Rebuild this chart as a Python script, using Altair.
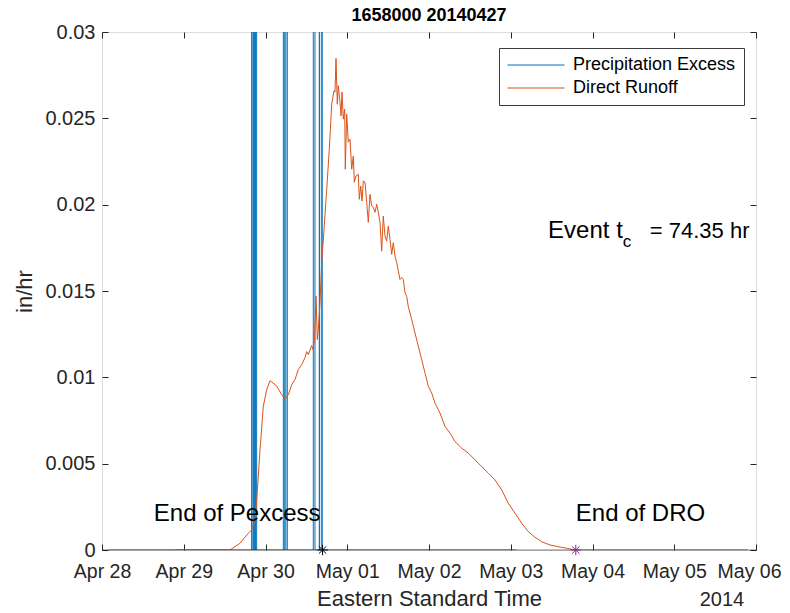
import altair as alt
import pandas as pd

# ---------------- data (hours since 2014-04-28 00:00 EST) ----------------
START = "2014-04-28 00:00:00"

tick_dates = ["2014-04-28", "2014-04-29", "2014-04-30", "2014-05-01", "2014-05-02",
              "2014-05-03", "2014-05-04", "2014-05-05", "2014-05-06"]
y_ticks = [0, 0.005, 0.01, 0.015, 0.02, 0.025, 0.03]

# Precipitation excess (in/hr) -- pulses exceed the axis top and are clipped
pex_hours = [2.0,
             43.95, 43.95, 44.05, 44.05,
             44.45, 44.45, 44.75, 44.75,
             45.05, 45.05, 45.40, 45.40,
             53.23, 53.23, 53.64, 53.64,
             53.98, 53.98, 54.40, 54.40,
             62.03, 62.03, 62.53, 62.53,
             63.79, 63.79, 63.90, 63.90,
             64.55, 64.55, 64.62, 64.62,
             121.7]
pex_values = [0,
              0, 0.044, 0.044, 0,
              0, 0.052, 0.052, 0,
              0, 0.071, 0.071, 0,
              0, 0.064, 0.064, 0,
              0, 0.083, 0.083, 0,
              0, 0.047, 0.047, 0,
              0, 0.058, 0.058, 0,
              0, 0.039, 0.039, 0,
              0]

# Direct runoff (in/hr)
ro_hours = [21.43, 37.58, 40.51, 42.95, 43.95, 44.92, 45.42, 46.39, 47.35, 48.35,
            49.32, 51.29, 52.76, 53.73, 54.69, 55.69, 56.66, 57.63, 58.63, 59.60,
            60.09, 60.57, 61.56, 61.95, 62.39, 62.83, 63.21, 63.50, 64.00, 64.50,
            65.18, 65.97, 66.73, 67.43, 68.11, 68.40, 68.70, 69.08, 69.37, 69.87,
            70.17, 70.46, 70.84, 71.25, 71.43, 71.84, 72.31, 72.81, 73.31, 73.78,
            74.07, 74.57, 75.24, 75.54, 75.95, 76.33, 76.71, 77.21, 77.71, 78.18,
            78.68, 79.18, 79.65, 80.15, 80.65, 81.12, 81.62, 82.11, 82.58, 83.08,
            83.58, 84.05, 84.55, 85.05, 85.52, 86.02, 86.52, 86.99, 87.49, 87.99,
            88.46, 88.95, 89.45, 89.92, 90.92, 91.89, 92.86, 93.86, 94.83, 95.80,
            96.79, 97.76, 99.23, 100.70, 102.17, 103.63, 105.60, 107.54, 109.51, 111.47,
            113.41, 115.37, 117.34, 119.28, 121.25, 123.21, 125.15, 127.12, 129.09, 131.52,
            133.96, 136.42, 139.10, 189.6]
ro_values = [0, 0, 0.00039, 0.00097, 0.00116, 0.00174, 0.00290, 0.00580, 0.00832, 0.00928,
             0.00981, 0.00950, 0.00899, 0.00875, 0.00899, 0.00957, 0.00987, 0.01045, 0.01074, 0.01114,
             0.01149, 0.01132, 0.01184, 0.01160, 0.01219, 0.01470, 0.01219, 0.01277, 0.01433, 0.01665,
             0.01857, 0.02089, 0.02321, 0.02582, 0.02660, 0.02652, 0.02847, 0.02582, 0.02689, 0.02594,
             0.02514, 0.02652, 0.02495, 0.02553, 0.02205, 0.02524, 0.02362, 0.02379, 0.02205, 0.02282,
             0.02130, 0.02166, 0.02176, 0.02031, 0.02108, 0.02021, 0.02137, 0.02130, 0.02014, 0.01898,
             0.02060, 0.01992, 0.01985, 0.01956, 0.02002, 0.01956, 0.01898, 0.01731, 0.01934, 0.01818,
             0.01789, 0.01876, 0.01799, 0.01712, 0.01780, 0.01702, 0.01665, 0.01615, 0.01567, 0.01578,
             0.01567, 0.01491, 0.01468, 0.01410, 0.01335, 0.01257, 0.01180, 0.01103, 0.01025, 0.00948,
             0.00909, 0.00851, 0.00793, 0.00716, 0.00677, 0.00628, 0.00590, 0.00561, 0.00522, 0.00483,
             0.00445, 0.00406, 0.00348, 0.00271, 0.00213, 0.00155, 0.00106, 0.00074, 0.00048, 0.00029,
             0.00019, 0.00010, 0, 0]

end_pexcess_hour = 64.75
event_tc_hours = 74.35
end_dro_hour = end_pexcess_hour + event_tc_hours

series_names = ["Precipitation Excess", "Direct Runoff"]
series_colors = ["#0072BD", "#D95319"]
title_text = "1658000 20140427"

# ---------------- tables ----------------
t0 = pd.Timestamp(START)
def to_time(h):
    return t0 + pd.to_timedelta(h, unit="h")

pex_df = pd.DataFrame({"time": to_time(pex_hours), "value": pex_values,
                       "series": series_names[0], "idx": range(len(pex_hours))})
ro_df = pd.DataFrame({"time": to_time(ro_hours), "value": ro_values,
                      "series": series_names[1], "idx": range(len(ro_hours))})
zero_df = pd.DataFrame({"value": [0.0]})
pend_df = pd.DataFrame({"time": to_time([end_pexcess_hour]), "value": [0.0]})
dend_df = pd.DataFrame({"time": to_time([end_dro_hour]), "value": [0.0]})
ann_right = pd.DataFrame({"time": to_time([end_pexcess_hour]), "value": [0.0021],
                          "label": ["End of Pexcess"]})
ann_left = pd.DataFrame({"time": to_time([end_dro_hour]), "value": [0.0021],
                         "label": ["End of DRO"]})
tc_df = pd.DataFrame({"time": to_time([152.9]), "value": [0.0185]})
year_df = pd.DataFrame({"time": to_time([182.0]), "value": [0.0]})

FONT = "Liberation Sans"
AX = "#262626"
W, H = 654, 518

tick_dt = [alt.DateTime(year=d.year, month=d.month, date=d.day)
           for d in pd.to_datetime(tick_dates)]
xs = alt.Scale(domain=[tick_dt[0], tick_dt[-1]], nice=False)
ys = alt.Scale(domain=[0, 0.03], nice=False)
cs = alt.Scale(domain=series_names, range=series_colors)

legend = alt.Legend(title=None, orient="none", legendX=397, legendY=16,
                    direction="vertical", fillColor="white", strokeColor="#3a3a3a",
                    padding=8, symbolType="stroke", symbolSize=3249,
                    symbolStrokeWidth=1, clipHeight=18, rowPadding=5,
                    labelOffset=8, labelFontSize=18, labelFont=FONT,
                    labelColor="black", labelLimit=400)

XL = 19.5
x_main = alt.Axis(orient="bottom", values=tick_dt[:-1], format="%b %d", labelFontSize=XL,
                  labelFont=FONT, labelColor=AX, labelPadding=12, ticks=False,
                  labelFlush=False, labelOverlap=False,
                  domain=False, grid=False, title="Eastern Standard Time",
                  titleFontSize=22, titleFont=FONT, titleFontWeight="normal",
                  titleColor=AX, titlePadding=8)
# last date label, kept inside the page edge
x_last = alt.Axis(orient="bottom", values=tick_dt[-1:], format="%b %d", labelFontSize=XL,
                  labelFont=FONT, labelColor=AX, labelPadding=12, ticks=False,
                  labelFlush=True, labelFlushOffset=25, labelOverlap=False,
                  domain=False, grid=False, title=None)
y_main = alt.Axis(orient="left", values=y_ticks, format="~g", labelFontSize=20,
                  labelFont=FONT, labelColor=AX, labelPadding=7, ticks=False,
                  labelFlush=False, labelOverlap=False,
                  domain=False, grid=False, title="in/hr", titleFontSize=22,
                  titleFont=FONT, titleFontWeight="normal", titleColor=AX,
                  titlePadding=8)
# inward tick marks on the four sides
x_tick_bot = alt.Axis(orient="top", offset=-H, values=tick_dt, labels=False, ticks=True,
                      tickSize=6, tickColor=AX, domain=False, grid=False, title=None)
x_tick_top = alt.Axis(orient="bottom", offset=-H, values=tick_dt, labels=False, ticks=True,
                      tickSize=6, tickColor=AX, domain=False, grid=False, title=None)
y_tick_left = alt.Axis(orient="right", offset=-W, values=y_ticks, labels=False, ticks=True,
                       tickSize=6, tickColor=AX, domain=False, grid=False, title=None)
y_tick_right = alt.Axis(orient="left", offset=-W, values=y_ticks, labels=False, ticks=True,
                        tickSize=6, tickColor=AX, domain=False, grid=False, title=None)

ASTERISK = "M-1,0L1,0M0,-1L0,1M-0.7,-0.7L0.7,0.7M-0.7,0.7L0.7,-0.7"

def enc(chart, xaxis=None, yaxis=None):
    return chart.encode(x=alt.X("time:T", scale=xs, axis=xaxis),
                        y=alt.Y("value:Q", scale=ys, axis=yaxis))

pex_line = alt.Chart(pex_df).mark_line(clip=True, strokeWidth=1).encode(
    x=alt.X("time:T", scale=xs, axis=x_main),
    y=alt.Y("value:Q", scale=ys, axis=y_main),
    color=alt.Color("series:N", scale=cs, legend=legend),
    order=alt.Order("idx:Q"),
)
ro_line = alt.Chart(ro_df).mark_line(clip=True, strokeWidth=1).encode(
    x=alt.X("time:T", scale=xs, axis=x_tick_bot),
    y=alt.Y("value:Q", scale=ys, axis=y_tick_left),
    color=alt.Color("series:N", scale=cs, legend=legend),
    order=alt.Order("idx:Q"),
)
zero_rule = alt.Chart(zero_df).mark_rule(color="black", opacity=0.5, strokeWidth=1).encode(
    y=alt.Y("value:Q", scale=ys, axis=None),
)
pend = enc(alt.Chart(pend_df).mark_point(shape=ASTERISK, size=110, filled=False,
                                         strokeWidth=1, color="black", opacity=1),
           x_tick_top, y_tick_right)
dend = enc(alt.Chart(dend_df).mark_point(shape=ASTERISK, size=110, filled=False,
                                         strokeWidth=1, color="#7E2F8E", opacity=1),
           x_last)
txt_r = enc(alt.Chart(ann_right).mark_text(align="right", baseline="middle", fontSize=24,
                                           font=FONT, color="black", dx=-2)).encode(text="label:N")
txt_l = enc(alt.Chart(ann_left).mark_text(align="left", baseline="middle", fontSize=24,
                                          font=FONT, color="black", dx=0)).encode(text="label:N")
tc_a = enc(alt.Chart(tc_df).mark_text(align="right", baseline="middle", fontSize=24,
                                      font=FONT, color="black", text="Event t"))
tc_b = enc(alt.Chart(tc_df).mark_text(align="left", baseline="middle", fontSize=17,
                                      font=FONT, color="black", text="c", dx=0, dy=11))
tc_c = enc(alt.Chart(tc_df).mark_text(align="left", baseline="middle", fontSize=22,
                                      font=FONT, color="black",
                                      text="= " + f"{event_tc_hours:.2f}" + " hr", dx=27))
year_txt = enc(alt.Chart(year_df).mark_text(align="center", baseline="middle", fontSize=20,
                                            font=FONT, color=AX, text="2014", dy=50))

chart = alt.layer(
    pex_line, ro_line, zero_rule, pend, dend, txt_r, txt_l, tc_a, tc_b, tc_c, year_txt
).resolve_axis(x="independent", y="independent").properties(
    width=W, height=H,
    title=alt.Title(title_text, fontSize=18, fontWeight="bold", font=FONT,
                    color="black", offset=-3, anchor="middle"),
    autosize=alt.AutoSizeParams(type="none"),
    padding={"left": 94, "top": 24, "right": 26, "bottom": 62},
).configure_view(stroke=AX, strokeWidth=1).configure(font=FONT)

chart.save("out.html", embed_options={"renderer": "svg", "actions": False})
